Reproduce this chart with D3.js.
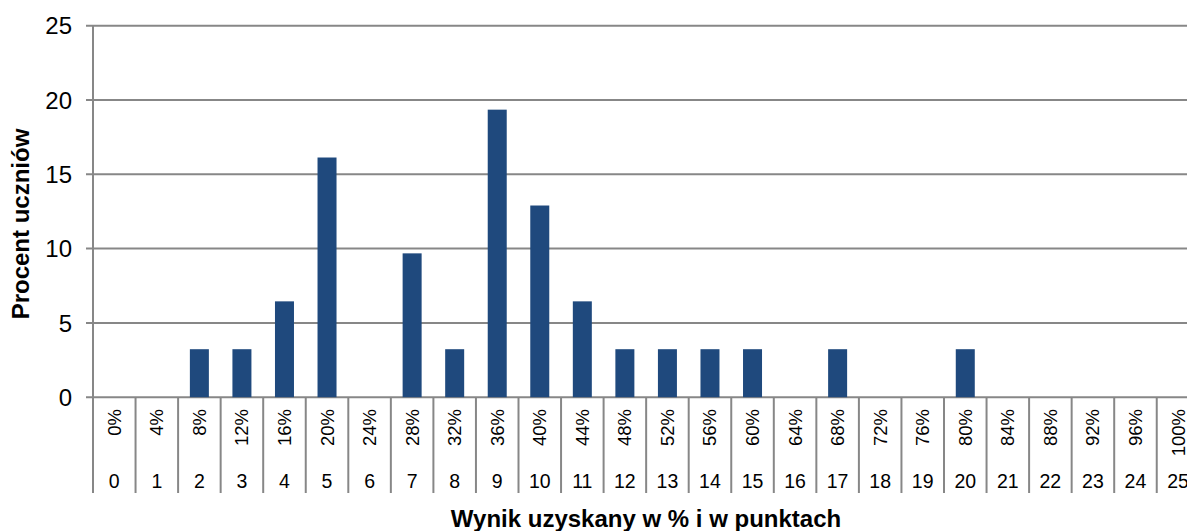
<!DOCTYPE html>
<html>
<head>
<meta charset="utf-8">
<script src="https://cdn.jsdelivr.net/npm/d3@7"></script>
<style>
  html, body { margin: 0; padding: 0; background: #fff; }
  svg { display: block; font-family: "Liberation Sans", Arial, sans-serif; }
</style>
</head>
<body>
<svg id="chart" width="1187" height="531"></svg>
<script>
const points = d3.range(0, 26);
const percentLabels = points.map(p => (p * 4) + "%");
const values = [0, 0, 3.23, 3.23, 6.45, 16.13, 0, 9.68, 3.23, 19.35, 12.90, 6.45, 3.23, 3.23, 3.23, 3.23, 0, 3.23, 0, 0, 3.23, 0, 0, 0, 0, 0];
const yTicks = [0, 5, 10, 15, 20, 25];

(function () {
const svg = d3.select("#chart");
const plotLeft = 93, plotTop = 25.7, plotBottom = 397.2;
const bandW = 42.55;
const x = d3.scaleBand().domain(points).range([plotLeft, plotLeft + 26 * bandW]).paddingInner(0).paddingOuter(0);
const y = d3.scaleLinear().domain([0, 25]).range([plotBottom, plotTop]);
const grid = "#878787";

// gridlines
svg.append("g").selectAll("line").data(yTicks).join("line")
  .attr("x1", plotLeft - 7).attr("x2", 1187)
  .attr("y1", d => y(d)).attr("y2", d => y(d))
  .attr("stroke", grid).attr("stroke-width", 2);

// y axis line
svg.append("line").attr("x1", plotLeft).attr("x2", plotLeft).attr("y1", plotTop).attr("y2", plotBottom)
  .attr("stroke", grid).attr("stroke-width", 2);

// y tick labels
svg.append("g").selectAll("text").data(yTicks).join("text")
  .attr("x", 72).attr("y", d => y(d)).attr("dy", "0.36em")
  .attr("text-anchor", "end").attr("font-size", 24).attr("fill", "#000")
  .text(d => d);

// bars
const barW = 19;
svg.append("g").selectAll("rect").data(points.filter((p, i) => values[i] > 0)).join("rect")
  .attr("x", d => x(d) + x.bandwidth() / 2 - barW / 2)
  .attr("width", barW)
  .attr("y", d => y(values[d]))
  .attr("height", d => y(0) - y(values[d]))
  .attr("fill", "#1f497d");

// category dividers
const divs = d3.range(0, 27).map(i => plotLeft + i * bandW);
svg.append("g").selectAll("line").data(divs).join("line")
  .attr("x1", d => d).attr("x2", d => d)
  .attr("y1", plotBottom).attr("y2", 493)
  .attr("stroke", grid).attr("stroke-width", 2);

// percent labels (rotated)
svg.append("g").selectAll("text").data(points).join("text")
  .attr("transform", d => `translate(${x(d) + x.bandwidth() / 2 + 6.5},409) rotate(-90)`)
  .attr("text-anchor", "end").attr("font-size", 18.5).attr("fill", "#000")
  .text(d => percentLabels[d]);

// point labels
svg.append("g").selectAll("text").data(points).join("text")
  .attr("x", d => x(d) + x.bandwidth() / 2).attr("y", 488)
  .attr("text-anchor", "middle").attr("font-size", 19.5).attr("fill", "#000")
  .text(d => d);

// axis titles
svg.append("text").attr("x", 646).attr("y", 527)
  .attr("text-anchor", "middle").attr("font-size", 24).attr("font-weight", "bold")
  .text("Wynik uzyskany w % i w punktach");
svg.append("text").attr("transform", "translate(29,224) rotate(-90)")
  .attr("text-anchor", "middle").attr("font-size", 24).attr("font-weight", "bold")
  .text("Procent uczniów");
})();
</script>
</body>
</html>
